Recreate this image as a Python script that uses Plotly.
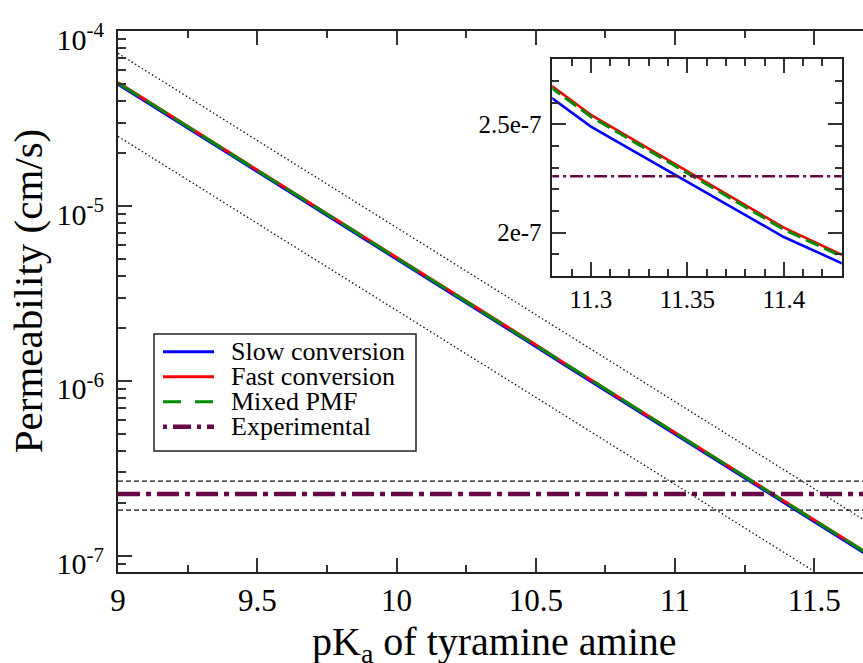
import plotly.graph_objects as go

# ---------------- data ----------------
pka = [9.0, 9.1, 9.2, 9.3, 9.4, 9.5, 9.6, 9.7, 9.8, 9.9,
       10.0, 10.1, 10.2, 10.3, 10.4, 10.5, 10.6, 10.7, 10.8, 10.9,
       11.0, 11.1, 11.2, 11.3, 11.4, 11.5, 11.6, 11.7]

slow_conversion = [4.97e-5, 3.95e-5, 3.13e-5, 2.49e-5, 1.98e-5, 1.57e-5, 1.245e-5, 9.89e-6, 7.87e-6, 6.26e-6,
                   4.97e-6, 3.95e-6, 3.13e-6, 2.49e-6, 1.98e-6, 1.575e-6, 1.245e-6, 9.89e-7, 7.87e-7, 6.26e-7,
                   4.97e-7, 3.95e-7, 3.14e-7, 2.489e-7, 1.980e-7, 1.578e-7, 1.250e-7, 9.93e-8]

fast_conversion = [5.07e-5, 4.03e-5, 3.20e-5, 2.54e-5, 2.02e-5, 1.61e-5, 1.27e-5, 1.01e-5, 8.04e-6, 6.39e-6,
                   5.07e-6, 4.03e-6, 3.20e-6, 2.54e-6, 2.02e-6, 1.61e-6, 1.27e-6, 1.01e-6, 8.04e-7, 6.39e-7,
                   5.07e-7, 4.03e-7, 3.20e-7, 2.543e-7, 2.023e-7, 1.607e-7, 1.277e-7, 1.014e-7]

mixed_pmf = [5.05e-5, 4.01e-5, 3.19e-5, 2.53e-5, 2.01e-5, 1.60e-5, 1.27e-5, 1.007e-5, 8.01e-6, 6.36e-6,
             5.05e-6, 4.01e-6, 3.19e-6, 2.53e-6, 2.01e-6, 1.60e-6, 1.27e-6, 1.007e-6, 8.01e-7, 6.36e-7,
             5.05e-7, 4.01e-7, 3.185e-7, 2.535e-7, 2.015e-7, 1.600e-7, 1.272e-7, 1.010e-7]

bound_pka = [9.0, 12.0]
upper_bound = [7.45e-5, 7.7e-8]
lower_bound = [2.5e-5, 2.6e-8]

exp_pka = [9.0, 12.0]
experimental = [2.26e-7, 2.26e-7]
exp_upper = [2.68e-7, 2.68e-7]
exp_lower = [1.83e-7, 1.83e-7]

x_ticks = [9, 9.5, 10, 10.5, 11, 11.5]
y_ticks = [1e-7, 1e-6, 1e-5, 1e-4]
y_ticktext = ["10<sup>-7</sup>", "10<sup>-6</sup>", "10<sup>-5</sup>", "10<sup>-4</sup>"]
inset_x_ticks = [11.3, 11.35, 11.4]
inset_y_ticks = [2e-7, 2.5e-7]
inset_y_ticktext = ["2e-7", "2.5e-7"]

legend_labels = ["Slow conversion", "Fast conversion", "Mixed PMF", "Experimental"]

# ---------------- style ----------------
FONT = "Liberation Serif, Times New Roman, Times, serif"
BLUE = "#0000FF"
RED = "#FF0000"
GREEN = "#008B00"
MAROON = "#670748"

fig = go.Figure()

# main panel
fig.add_trace(go.Scatter(x=bound_pka, y=upper_bound, mode="lines",
                         line=dict(color="#111", width=1.3, dash="1.5px,2.5px"), showlegend=False))
fig.add_trace(go.Scatter(x=bound_pka, y=lower_bound, mode="lines",
                         line=dict(color="#111", width=1.3, dash="1.5px,2.5px"), showlegend=False))
fig.add_trace(go.Scatter(x=exp_pka, y=exp_upper, mode="lines",
                         line=dict(color="#111", width=1.3, dash="5px,3px"), showlegend=False))
fig.add_trace(go.Scatter(x=exp_pka, y=exp_lower, mode="lines",
                         line=dict(color="#111", width=1.3, dash="5px,3px"), showlegend=False))
fig.add_trace(go.Scatter(x=pka, y=slow_conversion, mode="lines",
                         line=dict(color=BLUE, width=3), showlegend=False))
fig.add_trace(go.Scatter(x=pka, y=fast_conversion, mode="lines",
                         line=dict(color=RED, width=3), showlegend=False))
fig.add_trace(go.Scatter(x=pka, y=mixed_pmf, mode="lines",
                         line=dict(color=GREEN, width=3, dash="25px,8px"), showlegend=False))
fig.add_trace(go.Scatter(x=exp_pka, y=experimental, mode="lines",
                         line=dict(color=MAROON, width=4.5, dash="22px,6px,5px,6px"), showlegend=False))

# inset
fig.add_trace(go.Scatter(x=pka, y=slow_conversion, mode="lines", xaxis="x2", yaxis="y2",
                         line=dict(color=BLUE, width=2.6), showlegend=False))
fig.add_trace(go.Scatter(x=pka, y=fast_conversion, mode="lines", xaxis="x2", yaxis="y2",
                         line=dict(color=RED, width=2.6), showlegend=False))
fig.add_trace(go.Scatter(x=pka, y=mixed_pmf, mode="lines", xaxis="x2", yaxis="y2",
                         line=dict(color=GREEN, width=3, dash="14px,6px"), showlegend=False))
fig.add_trace(go.Scatter(x=exp_pka, y=experimental, mode="lines", xaxis="x2", yaxis="y2",
                         line=dict(color=MAROON, width=2.4, dash="13px,4px,3px,4px"), showlegend=False))

y_minor = [m * 10.0 ** e for e in range(-8, -4) for m in range(2, 10)]

fig.update_layout(
    width=863, height=663,
    margin=dict(l=118, r=0, t=31, b=91),
    paper_bgcolor="white", plot_bgcolor="white",
    font=dict(family=FONT, color="black"),
    xaxis=dict(
        domain=[0, 1], range=[9, 11.675],
        tickmode="array", tickvals=x_ticks,
        ticks="inside", ticklen=14, tickwidth=1.5, tickcolor="#333",
        minor=dict(tickmode="linear", tick0=9, dtick=0.25, ticks="inside", ticklen=7,
                   tickwidth=1.5, tickcolor="#333"),
        showline=True, linecolor="#222", linewidth=2, mirror="ticks",
        showgrid=False, zeroline=False,
        tickfont=dict(family=FONT, size=31, color="black"),
    ),
    yaxis=dict(
        domain=[0, 1], type="log", range=[-7.0915, -4],
        tickmode="array", tickvals=y_ticks, ticktext=y_ticktext,
        ticks="inside", ticklen=14, tickwidth=1.5, tickcolor="#333",
        minor=dict(tickmode="array", tickvals=y_minor, ticks="inside", ticklen=8,
                   tickwidth=1.5, tickcolor="#333"),
        showline=True, linecolor="#222", linewidth=2, mirror=False,
        showgrid=False, zeroline=False,
        tickfont=dict(family=FONT, size=30, color="black"),
        ticklabelstandoff=6, ticklabelshift=8,
    ),
    xaxis2=dict(
        domain=[0.583, 0.9714], anchor="y2", range=[11.28, 11.43],
        tickmode="array", tickvals=inset_x_ticks,
        ticks="inside", ticklen=14, tickwidth=1.5, tickcolor="#333",
        minor=dict(tickmode="linear", tick0=11.28, dtick=0.01, ticks="inside", ticklen=7,
                   tickwidth=1.5, tickcolor="#333"),
        showline=True, linecolor="#222", linewidth=1.5, mirror="ticks",
        showgrid=False, zeroline=False,
        tickfont=dict(family=FONT, size=25, color="black"),
    ),
    yaxis2=dict(
        domain=[0.547, 0.948], anchor="x2", range=[1.8e-7, 2.8e-7],
        tickmode="array", tickvals=inset_y_ticks, ticktext=inset_y_ticktext,
        ticks="inside", ticklen=14, tickwidth=1.5, tickcolor="#333",
        minor=dict(tickmode="linear", tick0=1.8e-7, dtick=1e-8, ticks="inside", ticklen=7,
                   tickwidth=1.5, tickcolor="#333"),
        showline=True, linecolor="#222", linewidth=1.5, mirror="ticks",
        showgrid=False, zeroline=False,
        tickfont=dict(family=FONT, size=25, color="black"),
        ticklabelstandoff=4,
    ),
)

# axis titles
fig.add_annotation(x=-0.1208, y=0.519, xref="paper", yref="paper",
                   text="Permeability (cm/s)", textangle=-90, showarrow=False,
                   font=dict(family=FONT, size=41, color="black"),
                   xanchor="center", yanchor="middle")
fig.add_annotation(x=0.5047, y=-0.133, xref="paper", yref="paper",
                   text="pK<sub>a</sub> of tyramine amine", showarrow=False,
                   font=dict(family=FONT, size=40, color="black"),
                   xanchor="center", yanchor="middle")

# manual legend (box, samples, labels)
fig.add_shape(type="rect", xref="paper", yref="paper",
              x0=0.0483, x1=0.4, y0=0.2237, y1=0.44,
              line=dict(color="#222", width=1.5), fillcolor="white", layer="above")
leg_styles = [dict(color=BLUE, width=3), dict(color=RED, width=3),
              dict(color=GREEN, width=3, dash="18px,14px"),
              dict(color=MAROON, width=4.5, dash="4px,6px,18px,6px")]
leg_rows = [0.4072, 0.361, 0.3147, 0.2685]
for lab, st, yy in zip(legend_labels, leg_styles, leg_rows):
    fig.add_shape(type="line", xref="paper", yref="paper",
                  x0=0.0604, x1=0.1289, y0=yy, y1=yy, line=st, layer="above")
    fig.add_annotation(x=0.149, y=yy, xref="paper", yref="paper", text=lab,
                       showarrow=False, xanchor="left", yanchor="middle",
                       font=dict(family=FONT, size=26, color="black"))

fig.write_html("out.html")
